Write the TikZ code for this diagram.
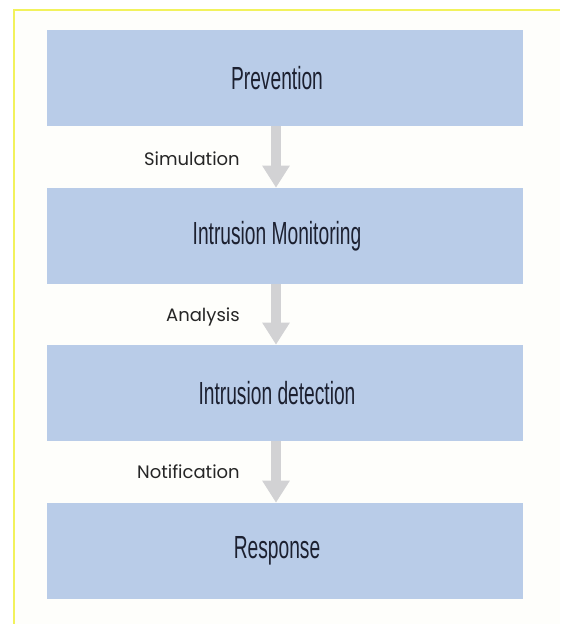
\documentclass[tikz,border=0pt]{standalone}
\usepackage{fontspec}
\usepackage{graphicx}
\setmainfont{Liberation Sans}
\newfontfamily\labelfont{Poppins}
\usetikzlibrary{arrows.meta}
\definecolor{boxblue}{HTML}{B9CCE8}
\definecolor{boxtext}{HTML}{1C2030}
\definecolor{arrowgray}{HTML}{D2D2D4}
\definecolor{frameyellow}{HTML}{F2F25C}
\definecolor{labeltext}{HTML}{262626}
\definecolor{paper}{HTML}{FEFEFB}
\newcommand\condtext[1]{\scalebox{0.6}[1]{\fontsize{24}{28}\selectfont #1}}
\tikzset{
  stagebox/.style={fill=boxblue, draw=none, minimum width=357pt, minimum height=72pt,
    inner sep=0pt},
  stagetext/.style={text=boxtext, inner sep=0pt, xshift=-6pt},
  steplabel/.style={anchor=east, inner sep=0pt, text=labeltext,
    font=\labelfont\fontsize{13.5}{16}\selectfont},
  flowarrow/.style={draw=arrowgray, line width=7.5pt,
    -{Triangle[width=19.5pt, length=16.5pt, fill=arrowgray]}}
}
\begin{document}
\begin{tikzpicture}[x=0.75pt, y=-0.75pt]
  \fill[white] (0,0) rectangle (560,624);
  \useasboundingbox (0,0) rectangle (560,624);
  \fill[paper] (14,10) rectangle (560,624);
  \draw[frameyellow, line width=1.4pt] (14,624) -- (14,10) -- (560,10);

  \node[stagebox, label={[stagetext]center:\condtext{Prevention}}] (prev) at (285,78) {};
  \node[stagebox, label={[stagetext]center:\condtext{Intrusion Monitoring}}] (mon) at (285,236) {};
  \node[stagebox, label={[stagetext]center:\condtext{Intrusion detection}}] (det) at (285,393) {};
  \node[stagebox, label={[stagetext]center:\condtext{Response}}] (resp) at (285,551) {};

  \draw[flowarrow] ([xshift=-6.75pt]prev.south) -- ([xshift=-6.75pt]mon.north);
  \draw[flowarrow] ([xshift=-6.75pt]mon.south) -- ([xshift=-6.75pt]det.north);
  \draw[flowarrow] ([xshift=-6.75pt]det.south) -- ([xshift=-6.75pt]resp.north);

  \node[steplabel] (l1) at (240,159) {Simulation};
  \node[steplabel] (l2) at (240,317) {Analysis};
  \node[steplabel] (l3) at (240,472) {Notification};
\end{tikzpicture}
\end{document}
